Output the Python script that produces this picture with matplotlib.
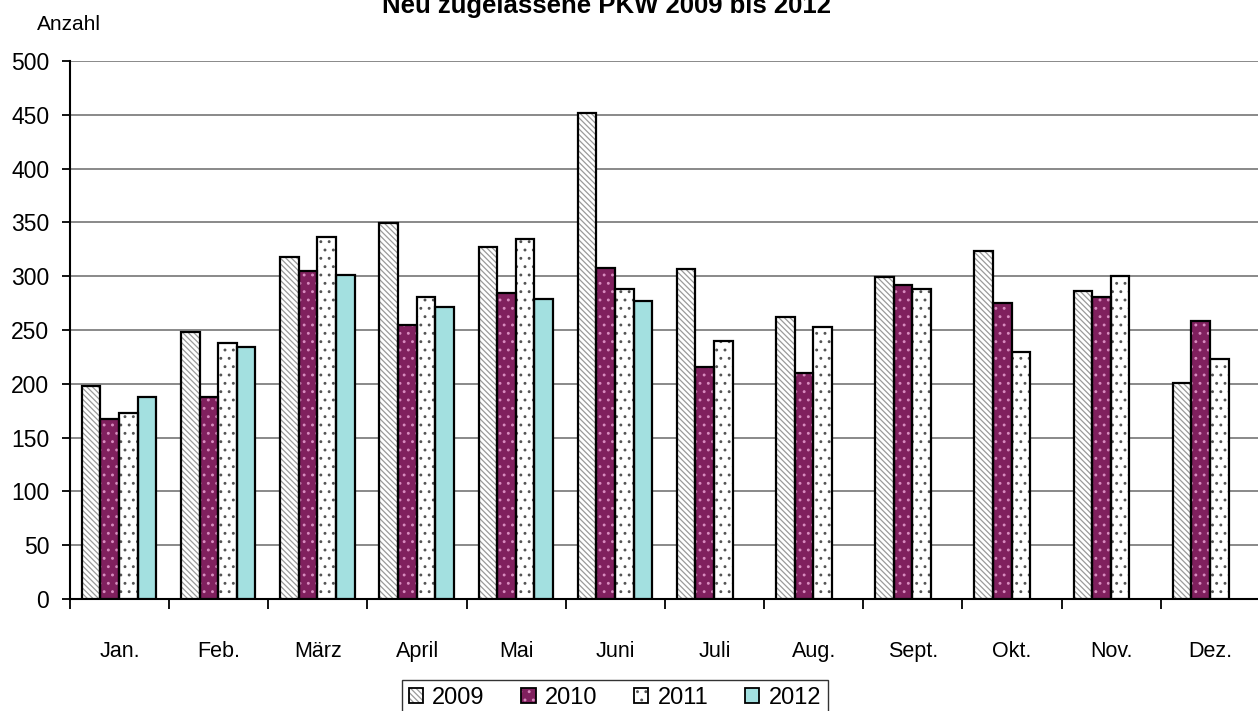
import matplotlib
matplotlib.use("Agg")
import matplotlib.pyplot as plt
from matplotlib.patches import Patch
import numpy as np

months = ["Jan.", "Feb.", "März", "April", "Mai", "Juni", "Juli", "Aug.",
          "Sept.", "Okt.", "Nov.", "Dez."]
years = ["2009", "2010", "2011", "2012"]
v2009 = [198, 248, 318, 349, 327, 452, 307, 262, 299, 323, 286, 201]
v2010 = [167, 188, 305, 255, 284, 308, 216, 210, 292, 275, 281, 258]
v2011 = [173, 238, 336, 281, 335, 288, 240, 253, 288, 230, 300, 223]
v2012 = [188, 234, 301, 271, 279, 277]
yticks = [0, 50, 100, 150, 200, 250, 300, 350, 400, 450, 500]

series = [v2009, v2010, v2011, v2012]
faces = ["white", "#80205E", "white", "#A3E0E0"]
hatches = ["\\\\\\\\\\\\", "..", "..", None]
hcolors = ["#9a9a9a", "#d98cc0", "#555555", "#A3E0E0"]

plt.rcParams["font.family"] = ["Liberation Sans", "DejaVu Sans"]
plt.rcParams["hatch.linewidth"] = 0.9

fig = plt.figure(figsize=(12.58, 7.11), dpi=100)
ax = fig.add_axes([70/1258, (711-599)/711, 1190/1258, 538/711])

w = 0.1875
n = len(series)
handles = []
for k, vals in enumerate(series):
    x = np.arange(len(vals)) + 0.495 + (k - (n - 1) / 2) * w
    ax.bar(x, vals, width=w, color=faces[k], hatch=hatches[k],
           edgecolor=hcolors[k], linewidth=0, zorder=3)
    ax.bar(x, vals, width=w, fill=False, edgecolor="black",
           linewidth=1.6, zorder=4)
    h1 = Patch(facecolor=faces[k], hatch=hatches[k], edgecolor=hcolors[k], linewidth=0)
    h2 = Patch(fill=False, edgecolor="black", linewidth=1.3)
    handles.append((h1, h2))

ax.set_xlim(0, 12)
ax.set_ylim(0, 500)
ax.set_yticks(yticks)
ax.set_yticklabels([str(t) for t in yticks], fontsize=16.5)
ax.yaxis.grid(True, color="#808080", linewidth=1.3, zorder=0)
ax.set_axisbelow(True)
ax.set_xticks(np.arange(12) + 0.5)
ax.set_xticklabels(months, fontsize=15.5)
ax.set_xticks(np.arange(13), minor=True)
ax.tick_params(axis="x", which="major", length=0, pad=30)
ax.tick_params(axis="x", which="minor", length=7, width=1.3, direction="out")
ax.tick_params(axis="y", length=6, width=1.3, direction="out", pad=9)
for s in ["top", "right"]:
    ax.spines[s].set_visible(False)
for s in ["left", "bottom"]:
    ax.spines[s].set_linewidth(1.5)

fig.text(37/1258, 1 - 25/711, "Anzahl", fontsize=15, va="center", ha="left")
fig.text(607/1258, 1 - 13/711, "Neu zugelassene PKW 2009 bis 2012",
         fontsize=18.5, fontweight="bold", va="baseline", ha="center")

leg = fig.legend(handles, years, loc="upper center", ncol=4,
                 bbox_to_anchor=(615/1258, 1 - 680/711), fontsize=17,
                 frameon=True, fancybox=False, edgecolor="black",
                 handlelength=0.6, handleheight=0.6, handletextpad=0.4,
                 columnspacing=1.55, borderpad=0.3, borderaxespad=0)
leg.get_frame().set_linewidth(1.0)

fig.savefig("out.png", dpi=100)
